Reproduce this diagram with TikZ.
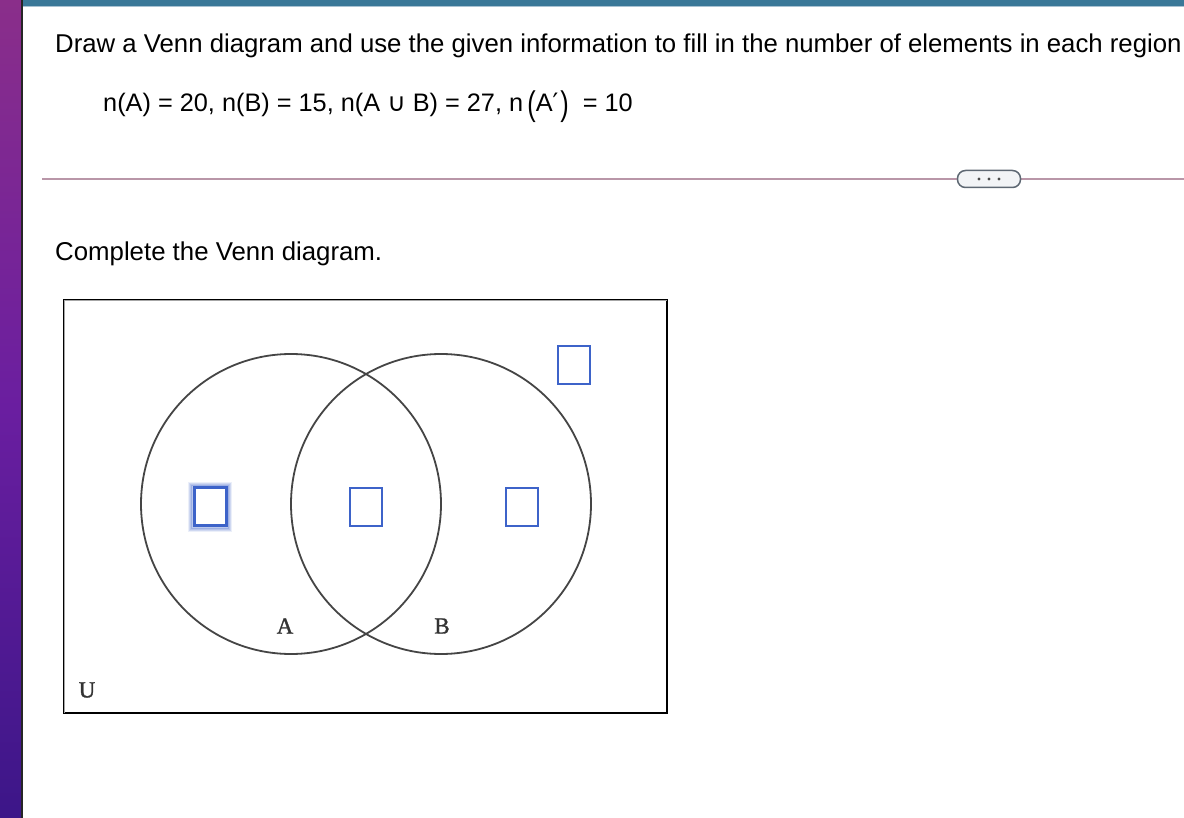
\documentclass[tikz,border=0pt]{standalone}
\usepackage{fontspec}
\usetikzlibrary{calc}
\setmainfont{Liberation Sans}
\newfontfamily\serifA[FakeBold=1.2]{Liberation Serif}
\newfontfamily\dejavu{DejaVu Sans}
\definecolor{topbar}{HTML}{3A7898}
\definecolor{topbarlight}{HTML}{A9C2D2}
\definecolor{sepline}{HTML}{B996A8}
\definecolor{pillborder}{HTML}{5E6873}
\definecolor{pillfill}{HTML}{F2F4F6}
\definecolor{boxblue}{HTML}{3D63C9}
\definecolor{venngray}{HTML}{454545}
\definecolor{labelgray}{HTML}{333333}
\definecolor{stripA}{HTML}{8A2E8A}
\definecolor{stripB}{HTML}{6A1EA0}
\definecolor{stripC}{HTML}{3C1688}
\begin{document}
\begin{tikzpicture}[x=1pt,y=-1pt,
  ansbox/.style={draw=boxblue, line width=2pt, fill=white, minimum width=32pt, minimum height=38pt, inner sep=0pt},
  venncircle/.style={circle, draw=venngray, line width=1.8pt, minimum size=300pt, inner sep=0pt},
  vlabel/.style={font=\serifA\fontsize{23}{23}\selectfont, text=labelgray, inner sep=0pt},
  bodytext/.style={anchor=base west, inner sep=0pt, font=\fontsize{25.8}{30}\selectfont},
  mathtext/.style={anchor=base west, inner sep=0pt, font=\fontsize{25.3}{30}\selectfont}]
\clip (0,0) rectangle (1184,818);
\fill[white] (0,0) rectangle (1184,818);
% left strip
\shade[top color=stripA, bottom color=stripC, middle color=stripB] (0,0) rectangle (21,818);
\fill[black!85] (21,0) rectangle (22.5,818);
% top bar
\fill[topbar] (22.5,0) rectangle (1184,6);
\fill[topbarlight] (22.5,6) rectangle (1184,7.5);
% texts
\node[bodytext, font=\fontsize{25.75}{30}\selectfont] (title) at (55,53) {Draw a Venn diagram and use the given information to fill in the number of elements in each region};
\node[mathtext] (given) at (103,112) {n(A) = 20, n(B) = 15, n(A {\dejavu ∪} B) = 27, n\,{\raisebox{-0.12em}{\scalebox{1}[1.35]{(}}}A{\dejavu ′}\hspace{2pt}{\raisebox{-0.12em}{\scalebox{1}[1.35]{)}}}\hspace{14pt}= 10};
% separator with pill
\coordinate (sepL) at (42,179);
\coordinate (sepR) at (1184,179);
\draw[sepline, line width=1.5pt] (sepL) -- (sepR);
\node[draw=pillborder, fill=pillfill, line width=1.5pt, rounded corners=8pt, minimum width=63pt, minimum height=17pt, inner sep=0pt] (pill) at (989,179) {};
\foreach \dx in {-10,0,10} \fill[black!70] ($(pill.center)+(\dx,0)$) circle (1.7pt);
\node[bodytext] (complete) at (55,261) {Complete the Venn diagram.};
% universe
\node[draw=black, line width=2pt, minimum width=603pt, minimum height=413pt, inner sep=0pt] (U) at (365.5,506.5) {};
\draw[black!35, line width=1pt] ($(U.north west)+(1.5,1.5)$) -- ($(U.north east)+(-1.5,1.5)$);
\draw[black!35, line width=1pt] ($(U.north west)+(1.5,1.5)$) -- ($(U.south west)+(1.5,-1.5)$);
% circles
\node[venncircle] (A) at (291,504) {};
\node[venncircle] (B) at (441,504) {};
\node[vlabel] (labA) at (285,626) {A};
\node[vlabel] (labB) at (442,626) {B};
\node[vlabel] (labU) at (87,690) {U};
% answer boxes
\foreach \g/\op in {5/0.10,4/0.16,3/0.24,2/0.34} {
  \draw[boxblue, opacity=\op, line width=2pt] (210-16-\g,506.5-19-\g) rectangle (210+16+\g,506.5+19+\g);
}
\node[ansbox, line width=3pt] (box1) at (210,506.5) {};
\node[ansbox] (box2) at (366,506.5) {};
\node[ansbox] (box3) at (522,507) {};
\node[ansbox] (box4) at (574,365) {};
\end{tikzpicture}
\end{document}
